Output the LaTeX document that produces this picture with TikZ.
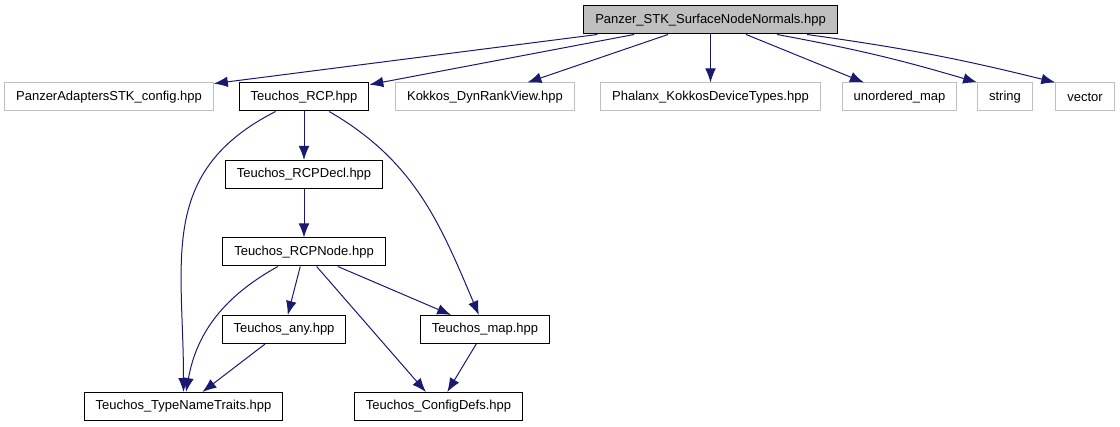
\documentclass[tikz,border=0pt]{standalone}
\usepackage{fontspec}
\setmainfont{Liberation Sans}
\usetikzlibrary{arrows.meta, positioning, calc}
\definecolor{edgeblue}{HTML}{191970}
\definecolor{boxgray}{HTML}{BFBFBF}
\tikzset{
  hdrnode/.style = {rectangle, align=center, inner xsep=8.6pt, inner ysep=0pt,
    minimum height=21pt, line width=0.75pt,
    font=\fontsize{9.75}{11}\selectfont},
  hdr_m/.style = {hdrnode, draw=black, fill=boxgray},% fichier de depart
  hdr_n/.style = {hdrnode, draw=black},% en-tete documente
  hdr_x/.style = {hdrnode, draw=boxgray},% en-tete externe
  inc/.style = {->, draw=edgeblue, line width=0.75pt}
}

\begin{document}
\begin{tikzpicture}[x=0.75pt, y=0.75pt, >={Latex[length=10.5pt,width=8pt]}]
\useasboundingbox (0,0) rectangle (1120,-427);
\node [hdr_m] (sfn) at (710.5,-20) {Panzer\_STK\_SurfaceNodeNormals.hpp};
% row 1
\node [hdr_x] (cfg)  at (109,-97)    {PanzerAdaptersSTK\_config.hpp};
\node [hdr_n] (rcp)  at (304,-97)    {Teuchos\_RCP.hpp};
\node [hdr_x] (kdrv) at (485,-97)    {Kokkos\_DynRankView.hpp};
\node [hdr_x] (phx)  at (710.5,-97)  {Phalanx\_KokkosDeviceTypes.hpp};
\node [hdr_x] (umap) at (899.5,-97)  {unordered\_map};
\node [hdr_x] (str)  at (1005,-97)   {string};
\node [hdr_x] (vec)  at (1085,-97)   {vector};
% Teuchos
\node [hdr_n] (rcpd) at (304,-174.5) {Teuchos\_RCPDecl.hpp};
\node [hdr_n] (rcpn) at (304,-252)   {Teuchos\_RCPNode.hpp};
\node [hdr_n] (any)  at (284,-329.5) {Teuchos\_any.hpp};
\node [hdr_n] (tmap) at (485,-329.5) {Teuchos\_map.hpp};
\node [hdr_n] (tnt)  at (183.5,-406.5) {Teuchos\_TypeNameTraits.hpp};
\node [hdr_n] (cdef) at (438.5,-406.5) {Teuchos\_ConfigDefs.hpp};

\draw [inc] (sfn) -- (cfg);
\draw [inc] (sfn) -- (rcp);
\draw [inc] (sfn) -- (kdrv);
\draw [inc] (sfn) -- (phx);
\draw [inc] (sfn) -- (umap);
\draw [inc] ($(sfn.south)+(66.5,0)$) to[bend left=3] (str.north west);
\draw [inc] ($(sfn.south)+(96.5,0)$) to[bend left=3] (vec.north west);

\draw [inc] (rcp) -- (rcpd);
\draw [inc] (rcp) to[out=207, in=90, looseness=1.15] (tnt);
\draw [inc] (rcp) to[out=-30, in=113] (tmap);
\draw [inc] (rcpd) -- (rcpn);
\draw [inc] (rcpn) to[out=209, in=80] (tnt);
\draw [inc] (rcpn) -- (any);
\draw [inc] (rcpn) -- (cdef);
\draw [inc] (rcpn) -- (tmap);
\draw [inc] (any) -- (tnt);
\draw [inc] (tmap) -- (cdef);
\end{tikzpicture}
\end{document}
